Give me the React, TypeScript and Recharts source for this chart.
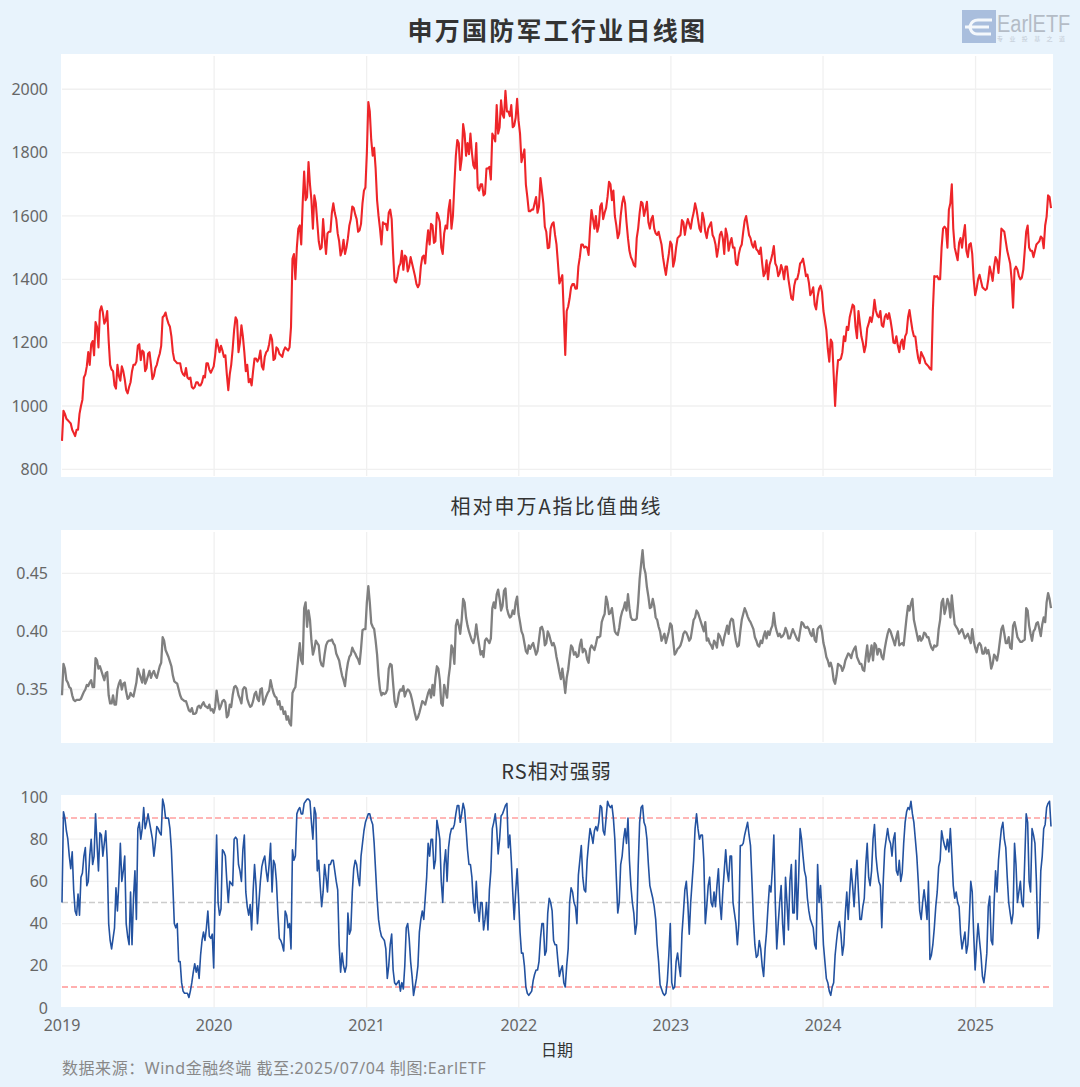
import React from "react";
import { LineChart, Line, XAxis, YAxis, CartesianGrid, ReferenceLine } from "recharts";

const DAY = 86400000;
const START = Date.UTC(2019, 0, 1);

const priceValues = [
  890,975,955,945,915,925,975,1020,1100,1170,1195,1160,1250,1300,1295,1270,1205,1115,1065,1130,
  1080,1110,1050,1060,1110,1130,1190,1145,1170,1120,1170,1085,1120,1150,1190,1285,1275,1250,1170,1140,
  1135,1110,1095,1090,1090,1055,1075,1065,1075,1090,1135,1105,1125,1210,1170,1175,1160,1050,1130,1240,
  1270,1200,1220,1110,1075,1065,1150,1140,1175,1115,1170,1195,1210,1150,1180,1160,1175,1180,1185,1465,
  1400,1560,1510,1740,1660,1700,1560,1640,1520,1500,1530,1545,1550,1640,1590,1520,1490,1480,1530,1590,
  1625,1590,1555,1640,1690,1960,1840,1815,1650,1560,1580,1575,1610,1590,1395,1410,1450,1430,1470,1440,
  1450,1410,1375,1440,1475,1510,1510,1570,1520,1600,1500,1545,1560,1650,1600,1790,1830,1780,1860,1830,
  1860,1760,1830,1680,1700,1670,1750,1715,1850,1950,1880,1920,1995,1930,1950,1885,1970,1860,1790,1700,
  1615,1620,1640,1610,1720,1640,1550,1500,1575,1540,1450,1400,1290,1300,1340,1385,1370,1440,1510,1500,
  1500,1560,1590,1600,1570,1640,1610,1660,1700,1680,1570,1545,1640,1640,1530,1470,1445,1530,1610,1640,
  1620,1580,1590,1560,1540,1530,1470,1414,1480,1510,1460,1530,1540,1580,1570,1575,1590,1640,1590,1550,
  1590,1530,1570,1540,1510,1500,1550,1480,1540,1515,1500,1450,1480,1510,1585,1570,1530,1500,1495,1480,
  1450,1420,1400,1460,1505,1440,1420,1430,1440,1400,1340,1380,1400,1450,1465,1410,1390,1360,1320,1345,
  1380,1300,1240,1140,1200,1000,1145,1150,1220,1250,1280,1320,1250,1300,1220,1170,1245,1280,1290,1300,
  1280,1255,1280,1275,1270,1200,1220,1170,1210,1220,1280,1270,1220,1180,1135,1160,1135,1125,1115,1410,
  1410,1400,1560,1560,1620,1700,1500,1460,1530,1540,1490,1510,1480,1350,1400,1395,1370,1370,1440,1395,
  1470,1420,1560,1550,1490,1450,1310,1440,1410,1405,1490,1570,1490,1470,1510,1520,1530,1570,1665,1625,
];
const priceMidweek = [
  985,960,950,925,905,925,1000,1090,1125,1130,1205,1265,1185,1315,1260,1300,1130,1110,1055,1095,
  1125,1085,1040,1075,1130,1140,1195,1175,1110,1165,1130,1095,1130,1165,1280,1295,1260,1220,1145,1135,
  1135,1100,1120,1085,1060,1060,1075,1065,1095,1135,1115,1115,1160,1190,1190,1155,1100,1100,1180,1280,
  1170,1255,1170,1130,1085,1110,1150,1150,1125,1155,1175,1225,1145,1185,1165,1155,1185,1175,1250,1480,
  1500,1570,1640,1650,1770,1650,1665,1580,1495,1590,1480,1550,1610,1610,1545,1475,1525,1500,1570,1630,
  1605,1550,1575,1680,1800,1930,1790,1750,1600,1510,1575,1555,1620,1480,1390,1440,1490,1475,1425,1470,
  1430,1385,1385,1470,1450,1555,1575,1515,1610,1580,1480,1570,1620,1560,1700,1840,1745,1890,1790,1795,
  1800,1750,1690,1700,1665,1750,1755,1860,1835,1860,1965,1910,1930,1915,1880,1910,1900,1770,1810,1660,
  1615,1620,1660,1630,1680,1566,1498,1560,1580,1510,1387,1413,1161,1314,1375,1385,1371,1470,1510,1503,
  1477,1619,1560,1550,1630,1590,1625,1708,1650,1600,1530,1600,1661,1580,1490,1460,1440,1561,1645,1600,
  1645,1560,1600,1545,1550,1510,1440,1450,1519,1440,1500,1535,1587,1540,1590,1560,1610,1620,1560,1610,
  1550,1560,1580,1530,1471,1540,1530,1560,1490,1530,1500,1445,1500,1550,1600,1540,1510,1520,1490,1500,
  1410,1460,1445,1480,1450,1410,1445,1400,1440,1370,1335,1400,1420,1455,1440,1415,1350,1375,1305,1370,
  1360,1271,1180,1210,1100,1090,1145,1170,1205,1240,1300,1315,1214,1260,1200,1190,1260,1265,1335,1285,
  1300,1250,1290,1293,1240,1198,1190,1200,1180,1230,1303,1240,1219,1150,1170,1150,1130,1118,1300,1408,
  1400,1500,1566,1500,1640,1560,1480,1515,1500,1571,1470,1514,1400,1370,1414,1375,1366,1400,1420,1440,
  1460,1480,1555,1520,1470,1400,1430,1430,1400,1430,1550,1500,1490,1490,1515,1535,1498,1598,1660,
];

const ratioValues = [
  0.345,0.368,0.356,0.351,0.341,0.341,0.341,0.345,0.35,0.353,0.358,0.352,0.375,0.37,0.362,0.364,0.345,0.338,0.337,0.35,
  0.358,0.355,0.348,0.343,0.345,0.35,0.368,0.36,0.367,0.358,0.366,0.364,0.362,0.365,0.373,0.392,0.381,0.374,0.362,0.356,
  0.35,0.342,0.34,0.336,0.331,0.329,0.33,0.336,0.337,0.336,0.334,0.332,0.33,0.349,0.333,0.34,0.339,0.328,0.335,0.352,
  0.351,0.342,0.35,0.351,0.338,0.336,0.346,0.342,0.35,0.337,0.344,0.349,0.352,0.344,0.337,0.333,0.329,0.324,0.321,0.347,
  0.352,0.378,0.375,0.42,0.404,0.41,0.38,0.392,0.388,0.371,0.38,0.391,0.392,0.39,0.381,0.375,0.362,0.353,0.373,0.38,
  0.383,0.378,0.372,0.401,0.402,0.439,0.407,0.402,0.38,0.35,0.347,0.347,0.368,0.371,0.34,0.339,0.35,0.353,0.348,0.349,
  0.341,0.329,0.326,0.335,0.339,0.342,0.35,0.354,0.36,0.368,0.338,0.354,0.343,0.37,0.385,0.405,0.405,0.41,0.425,0.405,
  0.396,0.39,0.406,0.388,0.383,0.392,0.392,0.394,0.425,0.432,0.428,0.422,0.437,0.415,0.413,0.415,0.43,0.408,0.397,0.383,
  0.388,0.388,0.385,0.383,0.403,0.4,0.39,0.397,0.388,0.386,0.372,0.359,0.358,0.36,0.378,0.386,0.382,0.379,0.393,0.385,
  0.376,0.385,0.386,0.389,0.395,0.408,0.415,0.425,0.416,0.41,0.398,0.403,0.417,0.425,0.432,0.412,0.41,0.411,0.445,0.47,
  0.45,0.43,0.421,0.422,0.41,0.4,0.395,0.39,0.4,0.405,0.38,0.385,0.388,0.398,0.399,0.392,0.402,0.412,0.416,0.408,
  0.4,0.392,0.39,0.385,0.39,0.398,0.392,0.395,0.405,0.408,0.41,0.392,0.388,0.41,0.42,0.413,0.408,0.402,0.392,0.387,
  0.39,0.4,0.4,0.402,0.416,0.4,0.398,0.396,0.403,0.394,0.398,0.399,0.393,0.4,0.407,0.403,0.402,0.396,0.393,0.402,
  0.405,0.39,0.378,0.37,0.368,0.355,0.372,0.37,0.369,0.378,0.38,0.382,0.387,0.375,0.372,0.366,0.388,0.38,0.375,0.388,
  0.385,0.378,0.385,0.398,0.4,0.392,0.395,0.388,0.39,0.4,0.422,0.424,0.41,0.398,0.396,0.394,0.398,0.395,0.386,0.388,
  0.388,0.41,0.428,0.42,0.424,0.431,0.406,0.402,0.4,0.398,0.396,0.394,0.402,0.386,0.388,0.388,0.381,0.381,0.378,0.372,
  0.378,0.382,0.402,0.398,0.39,0.386,0.405,0.402,0.393,0.391,0.393,0.418,0.398,0.4,0.407,0.402,0.406,0.408,0.433,0.42,
];
const ratioMidweek = [
  0.372,0.358,0.352,0.345,0.34,0.341,0.342,0.348,0.354,0.356,0.352,0.377,0.368,0.366,0.358,0.365,0.338,0.345,0.337,0.355,
  0.35,0.356,0.342,0.347,0.344,0.356,0.364,0.356,0.355,0.362,0.36,0.366,0.36,0.37,0.395,0.384,0.378,0.37,0.357,0.355,
  0.345,0.341,0.34,0.332,0.334,0.329,0.335,0.334,0.339,0.335,0.337,0.333,0.335,0.34,0.336,0.341,0.326,0.337,0.345,0.353,
  0.345,0.338,0.352,0.342,0.335,0.34,0.348,0.34,0.351,0.34,0.347,0.358,0.347,0.343,0.34,0.335,0.331,0.327,0.319,0.35,
  0.365,0.39,0.372,0.425,0.418,0.392,0.385,0.39,0.375,0.37,0.388,0.392,0.393,0.388,0.378,0.368,0.358,0.365,0.378,0.386,
  0.381,0.376,0.385,0.402,0.425,0.425,0.404,0.392,0.362,0.345,0.346,0.35,0.372,0.355,0.335,0.347,0.349,0.344,0.35,0.346,
  0.335,0.324,0.33,0.34,0.337,0.347,0.343,0.345,0.37,0.358,0.336,0.348,0.36,0.388,0.372,0.41,0.398,0.428,0.412,0.4,
  0.392,0.395,0.396,0.38,0.378,0.394,0.39,0.42,0.42,0.436,0.418,0.435,0.42,0.412,0.418,0.425,0.415,0.4,0.39,0.381,
  0.385,0.39,0.38,0.393,0.404,0.388,0.4,0.392,0.39,0.378,0.365,0.368,0.347,0.367,0.388,0.38,0.378,0.388,0.382,0.383,
  0.373,0.388,0.384,0.395,0.396,0.412,0.43,0.415,0.42,0.4,0.397,0.412,0.42,0.418,0.42,0.41,0.41,0.425,0.458,0.455,
  0.438,0.42,0.428,0.412,0.404,0.392,0.398,0.395,0.407,0.392,0.382,0.386,0.392,0.4,0.396,0.394,0.41,0.418,0.412,0.404,
  0.408,0.394,0.388,0.392,0.386,0.396,0.388,0.4,0.398,0.411,0.4,0.387,0.4,0.415,0.417,0.41,0.405,0.395,0.388,0.392,
  0.396,0.394,0.397,0.405,0.405,0.396,0.395,0.398,0.4,0.394,0.402,0.396,0.392,0.408,0.404,0.404,0.398,0.402,0.391,0.404,
  0.4,0.385,0.375,0.373,0.358,0.362,0.371,0.366,0.375,0.381,0.377,0.385,0.378,0.372,0.367,0.378,0.374,0.388,0.39,0.38,
  0.384,0.376,0.392,0.402,0.396,0.388,0.4,0.389,0.388,0.412,0.418,0.428,0.404,0.392,0.392,0.399,0.395,0.39,0.384,0.387,
  0.402,0.425,0.415,0.428,0.412,0.418,0.404,0.398,0.402,0.394,0.398,0.39,0.392,0.382,0.39,0.381,0.386,0.384,0.368,0.38,
  0.375,0.392,0.405,0.39,0.395,0.385,0.408,0.395,0.391,0.392,0.42,0.405,0.392,0.402,0.408,0.396,0.412,0.425,0.428,
];

const rsValues = [
  50,90,80,66,56,44,44,64,76,60,80,72,78,83,72,84,40,28,38,46,
  78,65,40,30,30,65,85,80,95,88,88,80,78,85,82,96,90,85,58,38,
  22,12,7,7,8,17,17,14,32,32,46,33,19,82,44,75,72,50,59,80,
  80,65,75,55,44,37,68,40,60,70,65,68,55,68,45,32,27,44,40,75,
  72,94,92,97,99,98,80,92,70,48,68,55,68,70,60,30,26,17,45,37,
  66,68,58,78,88,92,89,78,52,37,33,28,20,35,12,12,8,9,38,33,
  15,10,20,42,42,62,72,80,70,85,60,68,60,82,85,92,96,92,94,75,
  68,50,60,41,50,42,37,65,88,85,80,92,96,76,70,42,66,36,26,10,
  6,8,16,18,33,40,27,52,46,30,22,18,12,20,50,55,48,63,77,56,
  70,85,78,86,88,95,82,98,95,90,62,50,72,85,90,58,45,40,88,96,
  86,68,55,48,30,11,7,7,25,12,10,26,15,45,60,35,60,85,85,82,
  70,48,62,48,48,66,42,65,65,72,50,40,40,77,82,88,77,42,24,32,
  20,28,48,55,82,28,50,40,62,37,68,45,42,85,72,62,46,40,30,68,
  58,30,14,8,10,25,38,35,30,55,55,58,60,55,42,52,78,58,80,72,
  60,38,75,85,78,80,65,70,64,88,95,98,88,72,46,50,50,60,25,38,
  55,70,80,75,74,72,52,50,35,32,26,42,55,18,40,25,12,26,53,30,
  65,70,85,80,62,45,45,68,55,50,70,88,55,82,60,38,72,87,97,86,
];
const rsMidweek = [
  93,84,72,74,46,54,62,72,58,72,68,92,65,82,78,70,32,33,57,60,
  60,72,34,55,52,42,88,85,85,92,84,72,86,83,99,90,90,75,40,40,
  22,8,7,5,12,21,20,25,36,38,34,35,55,50,47,74,60,60,58,81,
  68,60,82,48,49,55,58,50,67,72,60,78,70,60,33,30,46,38,28,70,
  92,95,92,98,99,88,95,65,58,55,62,68,70,65,56,17,20,20,35,55,
  70,62,72,84,90,92,87,65,42,34,32,14,30,18,11,13,12,20,40,22,
  6,14,36,46,52,78,80,66,89,80,50,75,76,85,87,96,88,97,85,68,
  62,45,48,50,37,50,56,85,92,73,91,94,97,82,55,55,52,26,20,7,
  7,13,18,22,40,25,45,50,32,30,15,20,10,28,57,50,40,70,62,55,
  78,82,84,84,96,84,90,96,96,80,45,68,80,78,70,50,35,67,95,88,
  80,58,52,42,22,9,6,13,40,9,22,20,35,56,50,50,70,92,80,82,
  40,58,50,55,58,50,55,75,60,72,45,30,77,78,85,82,60,30,25,28,
  15,36,58,66,50,40,58,30,50,60,45,70,62,80,65,52,42,38,28,50,
  45,22,12,6,12,32,41,25,45,42,66,48,70,42,48,68,62,65,87,65,
  58,60,80,80,72,83,63,60,78,93,94,92,80,60,42,56,42,23,30,48,
  67,84,77,80,85,58,55,48,28,36,30,60,35,30,32,15,18,48,32,50,
  55,78,88,76,50,40,78,50,60,48,92,60,85,78,33,65,85,95,98,
];

// weekly readings with a mid-week reading between each pair of them
const buildSeries = (weekly: number[], mid: number[]) =>
  weekly.flatMap((v, i) => {
    const t = START + i * 7 * DAY;
    return i < mid.length ? [{ t, v }, { t: t + 3.5 * DAY, v: mid[i] }] : [{ t, v }];
  });

const yearLabels = [2019, 2020, 2021, 2022, 2023, 2024, 2025];
const yearTicks = yearLabels.map((y) => Date.UTC(y, 0, 1));
const gridYears = yearTicks.slice(1);
const priceTicks = [800, 1000, 1200, 1400, 1600, 1800, 2000];
const ratioTicks = [0.35, 0.4, 0.45];
const rsTicks = [0, 20, 40, 60, 80, 100];
const rsGrid = [20, 40, 60, 80];

const priceData = buildSeries(priceValues, priceMidweek);
const ratioData = buildSeries(ratioValues, ratioMidweek);
const rsData = buildSeries(rsValues, rsMidweek);

const FONT = '"Noto Sans", "Noto Sans CJK SC", sans-serif';
const CJK = '"Noto Sans CJK SC", sans-serif';
const X_DOMAIN = [START, START + (priceValues.length - 1) * 7 * DAY];
const GRID = "#f0f0f0";
const tickStyle = { fill: "#666", fontSize: 16, fontFamily: FONT };

const abs = (x: number, y: number, w: number, h: number, extra: any = {}) => ({
  position: "absolute" as const,
  left: x,
  top: y,
  width: w,
  height: h,
  ...extra,
});

function Heading({ top, size, weight, spacing, width = 1113, children }: any) {
  return (
    <div
      style={{
        position: "absolute",
        left: 0,
        width,
        top,
        textAlign: "center",
        fontFamily: CJK,
        fontSize: size,
        fontWeight: weight,
        letterSpacing: spacing,
        color: "#333",
        lineHeight: 1.2,
        whiteSpace: "nowrap",
      }}
    >
      {children}
    </div>
  );
}

function Panel({ top, height, data, color, width, domain, ticks, gridY, showX, children }: any) {
  return (
    <div style={abs(0, top, 1080, height)}>
      <LineChart width={1080} height={height} data={data} margin={{ top: 10, right: 29, bottom: showX ? 0 : 10, left: 0 }}>
        <CartesianGrid stroke={GRID} strokeWidth={1.3} horizontalValues={gridY} verticalValues={gridYears} />
        <XAxis
          dataKey="t"
          type="number"
          scale="linear"
          domain={X_DOMAIN}
          ticks={yearTicks}
          hide={!showX}
          height={showX ? 32 : 0}
          axisLine={false}
          tickLine={false}
          tickSize={0}
          tickMargin={12}
          tick={tickStyle}
          interval={0}
          tickFormatter={(t: number) => String(new Date(t).getUTCFullYear())}
        />
        <YAxis
          type="number"
          width={62}
          domain={domain}
          ticks={ticks}
          allowDataOverflow
          axisLine={false}
          tickLine={false}
          tickSize={0}
          tickMargin={14}
          tick={tickStyle}
          interval={0}
          tickFormatter={(v: number) => (v > 0 && v < 1 ? v.toFixed(2) : String(v))}
        />
        {children}
        <Line
          dataKey="v"
          type="linear"
          stroke={color}
          strokeWidth={width}
          dot={false}
          activeDot={false}
          isAnimationActive={false}
          strokeLinejoin="round"
        />
      </LineChart>
    </div>
  );
}

function Logo() {
  return (
    <div style={abs(962, 10, 112, 34)}>
      <svg width={34} height={33} style={{ position: "absolute", left: 0, top: 0 }}>
        <rect width={34} height={33} fill="#a9bedd" />
        <path d="M30 10 H16 Q10 10 8 16 M3 17 H27 M29 24 H15 Q10 24 8 18" fill="none" stroke="#f4f8fc" strokeWidth={3} />
      </svg>
      <div
        style={{
          position: "absolute",
          left: 35,
          top: 5,
          fontFamily: '"Liberation Sans", sans-serif',
          fontSize: 20,
          color: "#b4bcc6",
          lineHeight: "17px",
          transform: "scaleY(1.15)",
          transformOrigin: "left top",
          whiteSpace: "nowrap",
        }}
      >
        EarlETF
      </div>
      <div
        style={{
          position: "absolute",
          left: 35,
          top: 25,
          fontFamily: CJK,
          fontSize: 6,
          letterSpacing: 6.4,
          color: "#c2cad4",
          lineHeight: "8px",
          whiteSpace: "nowrap",
        }}
      >
        专业投基之道
      </div>
    </div>
  );
}

export default function App() {
  return (
    <div style={abs(0, 0, 1080, 1087, { background: "#e8f3fc", overflow: "hidden" })}>
      <div style={abs(61, 54, 992, 423, { background: "#fff" })} />
      <div style={abs(61, 530, 992, 213, { background: "#fff" })} />
      <div style={abs(61, 795, 992, 212, { background: "#fff" })} />

      <Heading top={14} size={25} weight={700} spacing={2.25} width={1115}>申万国防军工行业日线图</Heading>
      <Heading top={494} size={20} weight={400} spacing={2}>相对申万A指比值曲线</Heading>
      <Heading top={759} size={20} weight={400} spacing={1}>RS相对强弱</Heading>
      <Logo />

      <Panel top={46} height={440} data={priceData} color="#ee2529" width={2.1} domain={[779, 2105]} ticks={priceTicks} gridY={priceTicks} />
      <Panel top={522} height={230} data={ratioData} color="#808080" width={2.3} domain={[0.3048, 0.4856]} ticks={ratioTicks} gridY={ratioTicks} />
      <Panel top={787} height={253} data={rsData} color="#2352a0" width={1.6} domain={[0, 100]} ticks={rsTicks} gridY={rsGrid} showX>
        <ReferenceLine y={90} stroke="#ff0000" strokeOpacity={0.38} strokeWidth={1.5} strokeDasharray="6 3" />
        <ReferenceLine y={50} stroke="#808080" strokeOpacity={0.4} strokeWidth={1.5} strokeDasharray="6 3" />
        <ReferenceLine y={10} stroke="#ff0000" strokeOpacity={0.42} strokeWidth={1.5} strokeDasharray="6 3" />
      </Panel>

      <div style={{ position: "absolute", left: 541, top: 1038, fontFamily: CJK, fontSize: 16, color: "#333", lineHeight: "22px" }}>日期</div>
      <div style={{ position: "absolute", left: 62, top: 1057, fontFamily: FONT, fontSize: 16, letterSpacing: 0.55, color: "#888", lineHeight: "22px", whiteSpace: "nowrap" }}>
        数据来源：Wind金融终端 截至:2025/07/04 制图:EarlETF
      </div>
    </div>
  );
}
